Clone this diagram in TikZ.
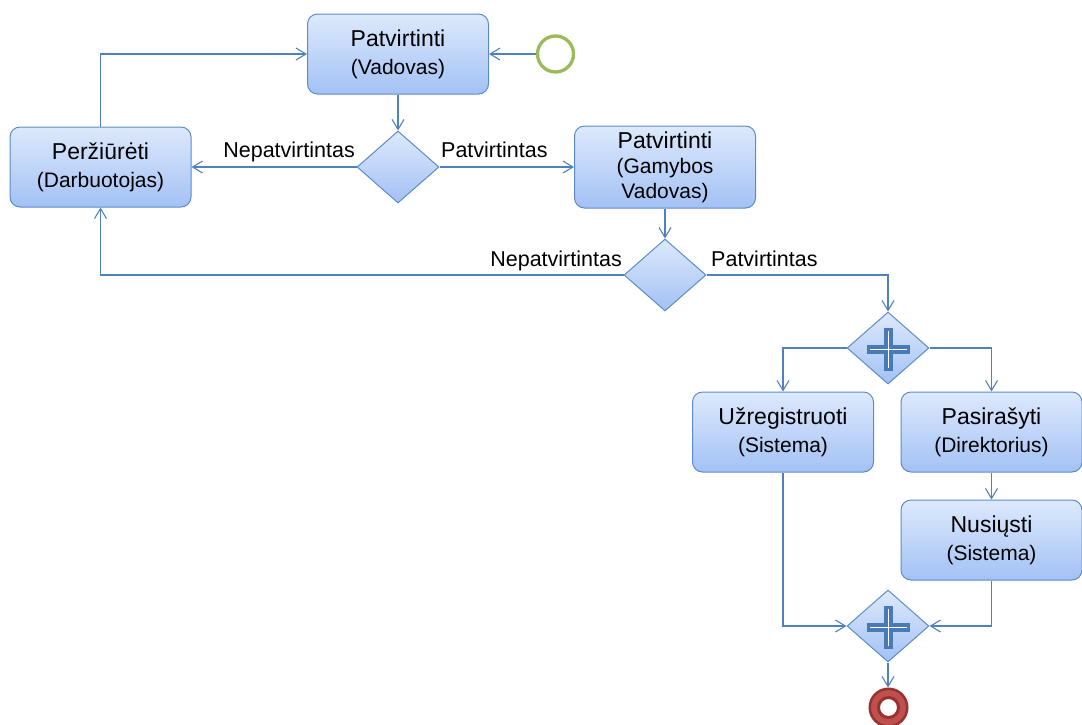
\documentclass[tikz,border=0pt]{standalone}
\usepackage{fontspec}
\setmainfont{Liberation Sans}
\usetikzlibrary{arrows.meta,shapes.geometric}
\definecolor{boxtop}{RGB}{221,233,252}
\definecolor{boxbot}{RGB}{163,193,245}
\definecolor{boxline}{RGB}{92,140,200}
\definecolor{flowc}{RGB}{79,129,189}
\definecolor{plusc}{RGB}{72,122,184}
\definecolor{startc}{RGB}{155,187,89}
\definecolor{endfill}{RGB}{192,80,77}
\definecolor{endline}{RGB}{150,50,48}
\newcommand\tit[1]{{\fontsize{23}{27}\selectfont #1}}
\begin{document}
\begin{tikzpicture}[x=1pt,y=-1pt,
 task/.style={draw=boxline, line width=1pt, rounded corners=10pt, top color=boxtop, bottom color=boxbot,
   minimum width=181pt, minimum height=80pt, inner sep=0pt, align=center, font=\fontsize{21}{28}\selectfont},
 gate/.style={diamond, draw=boxline, line width=1pt, top color=boxtop, bottom color=boxbot,
   minimum width=82pt, minimum height=72pt, inner sep=0pt},
 flow/.style={draw=flowc, line width=1.1pt, -{Straight Barb[length=10pt,width=12pt]}},
 lbl/.style={font=\fontsize{21.5}{25}\selectfont, inner sep=0pt},
 plusbar/.style={draw=plusc, line width=8.5pt},
 plusin/.style={draw=white, line width=1pt}]
\useasboundingbox (0,0) rectangle (1082,724);

\node[task] (vad) at (398,54) {\tit{Patvirtinti}\\(Vadovas)};
\node[task] (per) at (100.5,167) {\tit{Peržiūrėti}\\(Darbuotojas)};
\node[task, minimum height=82pt, font=\fontsize{21}{25}\selectfont] (gam) at (665,167) {\tit{Patvirtinti}\\(Gamybos\\Vadovas)};
\node[task] (uz) at (783,432) {\tit{Užregistruoti}\\(Sistema)};
\node[task] (pas) at (991.5,432) {\tit{Pasirašyti}\\(Direktorius)};
\node[task] (nus) at (991.5,540) {\tit{Nusiųsti}\\(Sistema)};

\node[gate] (d1) at (398,167) {};
\node[gate] (d2) at (665,275) {};
\node[gate] (g1) at (888,348) {};
\node[gate] (g2) at (888,626) {};

\foreach \g in {g1,g2}{
  \draw[plusbar] ([xshift=-21pt,yshift=-1.5pt]\g.center) -- ([xshift=22pt,yshift=-1.5pt]\g.center);
  \draw[plusbar] ([xshift=0.5pt,yshift=-23pt]\g.center) -- ([xshift=0.5pt,yshift=20pt]\g.center);
  \draw[plusin] ([xshift=-18pt,yshift=-1.5pt]\g.center) -- ([xshift=19pt,yshift=-1.5pt]\g.center);
  \draw[plusin] ([xshift=0.5pt,yshift=-20pt]\g.center) -- ([xshift=0.5pt,yshift=17pt]\g.center);
}

\node[circle, draw=startc, line width=3.3pt, fill=white, minimum size=36pt, inner sep=0pt] (start) at (555.5,54) {};
\node[circle, draw=endline, line width=2.5pt, fill=endfill, minimum size=37.5pt, inner sep=0pt] (end) at (888.5,707.5) {};
\node[circle, draw=endline, line width=3pt, fill=white, minimum size=20pt, inner sep=0pt] (endin) at (end.center) {};

\draw[flow] (start) -- (vad);
\draw[flow] (vad) -- (d1);
\draw[flow] (d1) -- (per);
\draw[flow] (d1) -- (gam);
\draw[flow] (gam) -- (d2);
\draw[flow] (per.north) |- (vad.west);
\draw[flow] (d2.west) -| (per.south);
\draw[flow] (d2.east) -| (g1.north);
\draw[flow] (g1.west) -| (uz.north);
\draw[flow] (g1.east) -| (pas.north);
\draw[flow] (pas) -- (nus);
\draw[flow] (uz.south) |- (g2.west);
\draw[flow] (nus.south) |- (g2.east);
\draw[flow] (g2.south) -- (g2.south |- end.north);

\node[lbl, anchor=base east] (l1) at (355,157) {Nepatvirtintas};
\node[lbl, anchor=base west] (l2) at (441,157) {Patvirtintas};
\node[lbl, anchor=base east] (l3) at (622,266) {Nepatvirtintas};
\node[lbl, anchor=base west] (l4) at (711,266) {Patvirtintas};
\end{tikzpicture}
\end{document}
